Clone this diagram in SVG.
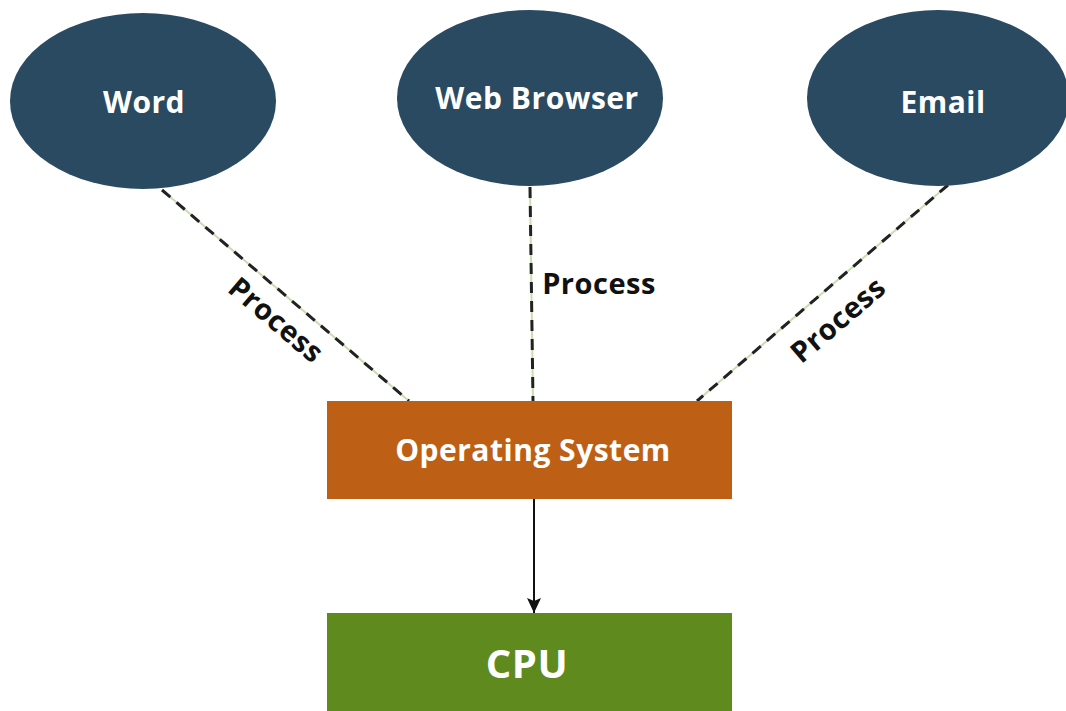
<svg xmlns="http://www.w3.org/2000/svg" width="1066" height="711" viewBox="0 0 1066 711">
<style>
.ell{fill:#2A4A62}
.lbl{font-family:"Open Sans","Liberation Sans",sans-serif;font-weight:bold;fill:#fff;text-anchor:middle;letter-spacing:0.5px}
.proc{font-family:"Open Sans","Liberation Sans",sans-serif;font-weight:bold;fill:#111;font-size:29px;text-anchor:middle;letter-spacing:0.5px}
.under{stroke:#C8DDB0;stroke-width:2;fill:none}
.dash{stroke:#222;stroke-width:3;stroke-dasharray:11,8;fill:none}
</style>
<defs>
<marker id="arr" markerWidth="16" markerHeight="16" refX="15" refY="7" orient="auto" markerUnits="userSpaceOnUse">
<path d="M0,0 L15,7 L0,14 L3,7 Z" fill="#111"/>
</marker>
</defs>
<rect width="1066" height="711" fill="#fff"/>
<g id="connectors">
<line class="under" x1="162" y1="190" x2="409" y2="401"/>
<line class="dash" x1="162" y1="190" x2="409" y2="401"/>
<line class="under" x1="530" y1="187" x2="533" y2="401"/>
<line class="dash" x1="530" y1="187" x2="533" y2="401"/>
<line class="under" x1="948" y1="185" x2="697" y2="401"/>
<line class="dash" x1="948" y1="185" x2="697" y2="401"/>
<line x1="534" y1="499" x2="534" y2="613" stroke="#111" stroke-width="2" marker-end="url(#arr)"/>
<text class="proc" transform="translate(276,320) rotate(40.5)" y="10">Process</text>
<text class="proc" x="599" y="294">Process</text>
<text class="proc" transform="translate(838,320) rotate(-40.5)" y="10">Process</text>
</g>
<g id="word"><ellipse class="ell" cx="143" cy="101" rx="133" ry="88"/><text class="lbl" x="144" y="113" font-size="30">Word</text></g>
<g id="browser"><ellipse class="ell" cx="530" cy="98" rx="133" ry="88"/><text class="lbl" x="537" y="109" font-size="30">Web Browser</text></g>
<g id="email"><ellipse class="ell" cx="938" cy="98" rx="131" ry="88"/><text class="lbl" x="943" y="113" font-size="30">Email</text></g>
<g id="os"><rect x="327" y="401" width="405" height="98" fill="#BE5F16"/><text class="lbl" x="533" y="461" font-size="30">Operating System</text></g>
<g id="cpu"><rect x="327" y="613" width="405" height="100" fill="#5F8A1E"/><text class="lbl" x="527" y="678" font-size="40">CPU</text></g>
</svg>
